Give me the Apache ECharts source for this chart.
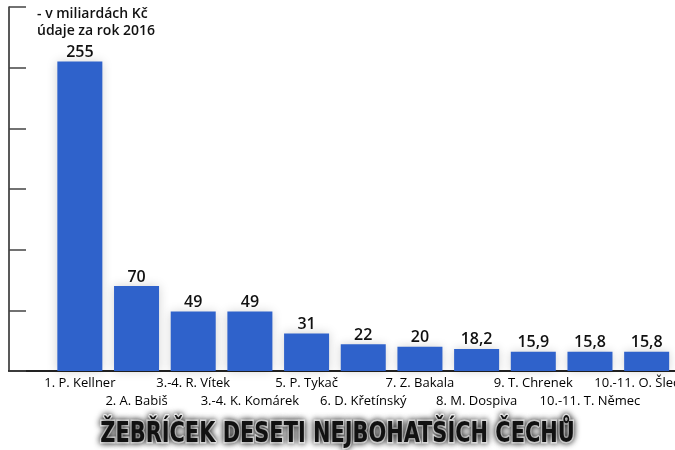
<!DOCTYPE html>
<html>
<head>
<meta charset="utf-8">
<script src="https://cdn.jsdelivr.net/npm/echarts@6/dist/echarts.min.js"></script>
<style>
html,body{margin:0;padding:0;background:#fff;}
#chart{width:675px;height:450px;}
</style>
</head>
<body>
<div id="chart"></div>
<script>
const names = ['1. P. Kellner','2. A. Babiš','3.-4. R. Vítek','3.-4. K. Komárek','5. P. Tykač','6. D. Křetínský','7. Z. Bakala','8. M. Dospiva','9. T. Chrenek','10.-11. T. Němec','10.-11. O. Šlechta'];
const values = [255, 70, 49, 49, 31, 22, 20, 18.2, 15.9, 15.8, 15.8];
const valueLabels = ['255','70','49','49','31','22','20','18,2','15,9','15,8','15,8'];
const unitNote = '- v miliardách Kč\núdaje za rok 2016';
const chartTitle = 'ŽEBŘÍČEK DESETI NEJBOHATŠÍCH ČECHŮ';

const chart = echarts.init(document.getElementById('chart'));
const font = '"Open Sans", "Noto Sans", sans-serif';
chart.setOption({
  animation: false,
  backgroundColor: '#ffffff',
  title: [
    {
      text: unitNote, left: 32, top: 1,
      textStyle: {fontFamily: font, fontSize: 14, fontWeight: 600, color: '#111', lineHeight: 17}
    }
  ],
  graphic: [{
    type: 'text', left: 'center', top: 419, scaleX: 0.83,
    style: {
      text: chartTitle,
      font: 'bold 28px "DejaVu Sans Condensed", "DejaVu Sans", sans-serif',
      fill: '#111', stroke: '#ffffff', lineWidth: 3,
      textShadowColor: 'rgba(0,0,0,0.75)', textShadowBlur: 6,
      shadowColor: 'rgba(0,0,0,0.75)', shadowBlur: 6
    }
  }],
  grid: {left: 9, right: 0, top: 7, bottom: 79, outerBoundsMode: 'none', containLabel: false},
  xAxis: {
    type: 'value', min: -1.25, max: 10.5, interval: 0.25,
    splitLine: {show: false},
    axisTick: {show: false},
    axisLine: {show: true, onZero: false, lineStyle: {color: '#222', width: 2}},
    axisLabel: {
      show: true, margin: 3, showMinLabel: true, showMaxLabel: true, hideOverlap: false,
      fontFamily: font, fontSize: 13, color: '#000', lineHeight: 18,
      formatter: function (v) {
        const i = Math.round(v);
        if (Math.abs(v - i) > 1e-6 || i < 0 || i >= names.length) return '';
        return (i % 2 === 1 ? '\n' : '') + names[i];
      }
    }
  },
  yAxis: {
    type: 'value', min: 0, max: 300, interval: 50,
    splitLine: {show: false},
    axisLabel: {show: false},
    axisLine: {show: true, onZero: false, lineStyle: {color: '#222', width: 1.5}},
    axisTick: {show: true, inside: true, length: 17, lineStyle: {color: '#444', width: 1.5}}
  },
  series: [{
    type: 'bar',
    barWidth: 45,
    data: values.map((v, i) => [i, v]),
    itemStyle: {color: '#2f62cb', shadowColor: 'rgba(0,0,0,0.18)', shadowBlur: 10},
    label: {
      show: true, position: 'top', distance: 1,
      fontFamily: font, fontSize: 16, fontWeight: 600, color: '#111',
      formatter: p => valueLabels[p.dataIndex]
    }
  }]
});
</script>
</body>
</html>
